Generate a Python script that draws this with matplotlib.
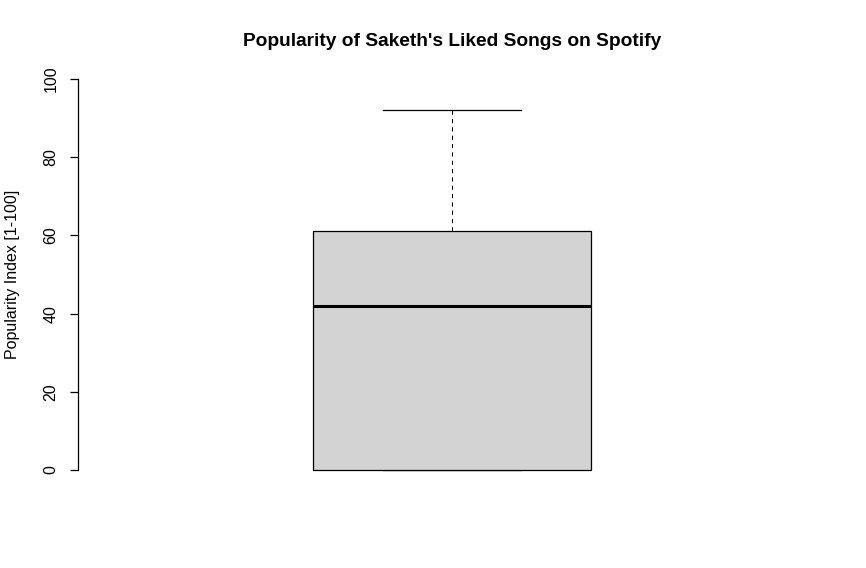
import matplotlib.pyplot as plt

plt.rcParams["font.family"] = ["Liberation Sans", "DejaVu Sans"]

# summary stats of the popularity index
whisker_low = 0
q1 = 0
median = 42
q3 = 61
whisker_high = 92

y_ticks = [0, 20, 40, 60, 80, 100]

W, H = 866, 568
fig = plt.figure(figsize=(W / 100, H / 100), dpi=100)
ax = fig.add_axes([78 / W, (H - 470) / H, (826 - 78) / W, (470 - 79) / H])

stats = [{"whislo": whisker_low, "q1": q1, "med": median, "q3": q3,
          "whishi": whisker_high, "fliers": []}]
parts = ax.bxp(stats, positions=[1], widths=0.4, capwidths=0.2,
               patch_artist=True, showfliers=False,
               boxprops=dict(facecolor="#D3D3D3", edgecolor="black", linewidth=0.9),
               medianprops=dict(color="black", linewidth=2.2, solid_capstyle="butt"),
               whiskerprops=dict(color="black", linewidth=0.75, linestyle=(0, (4, 4))),
               capprops=dict(color="black", linewidth=0.9))
for key in ["boxes", "medians", "whiskers", "caps"]:
    for a in parts[key]:
        a.set_clip_on(False)
# box edge drawn on top of the lower cap, like R does
for b in parts["boxes"]:
    b.set_zorder(3)
for m in parts["medians"]:
    m.set_zorder(4)

ax.set_xlim(0.46, 1.54)
ax.set_ylim(0, 100)
ax.set_xticks([])
ax.set_yticks(y_ticks)
ax.set_yticklabels([str(t) for t in y_ticks], rotation=90, va="center",
                   fontsize=11.5)
ax.tick_params(axis="y", length=6, width=0.9, pad=8)
for s in ["top", "right", "bottom"]:
    ax.spines[s].set_visible(False)
ax.spines["left"].set_linewidth(0.9)
ax.patch.set_alpha(0)

fig.text(13 / W, 1 - 274 / H, "Popularity Index [1-100]", rotation=90,
         ha="center", va="center", fontsize=11.5)
fig.text(452 / W, 1 - 41 / H, "Popularity of Saketh's Liked Songs on Spotify",
         ha="center", va="center", fontsize=13.8, fontweight="bold")

fig.savefig("out.png", dpi=100)
